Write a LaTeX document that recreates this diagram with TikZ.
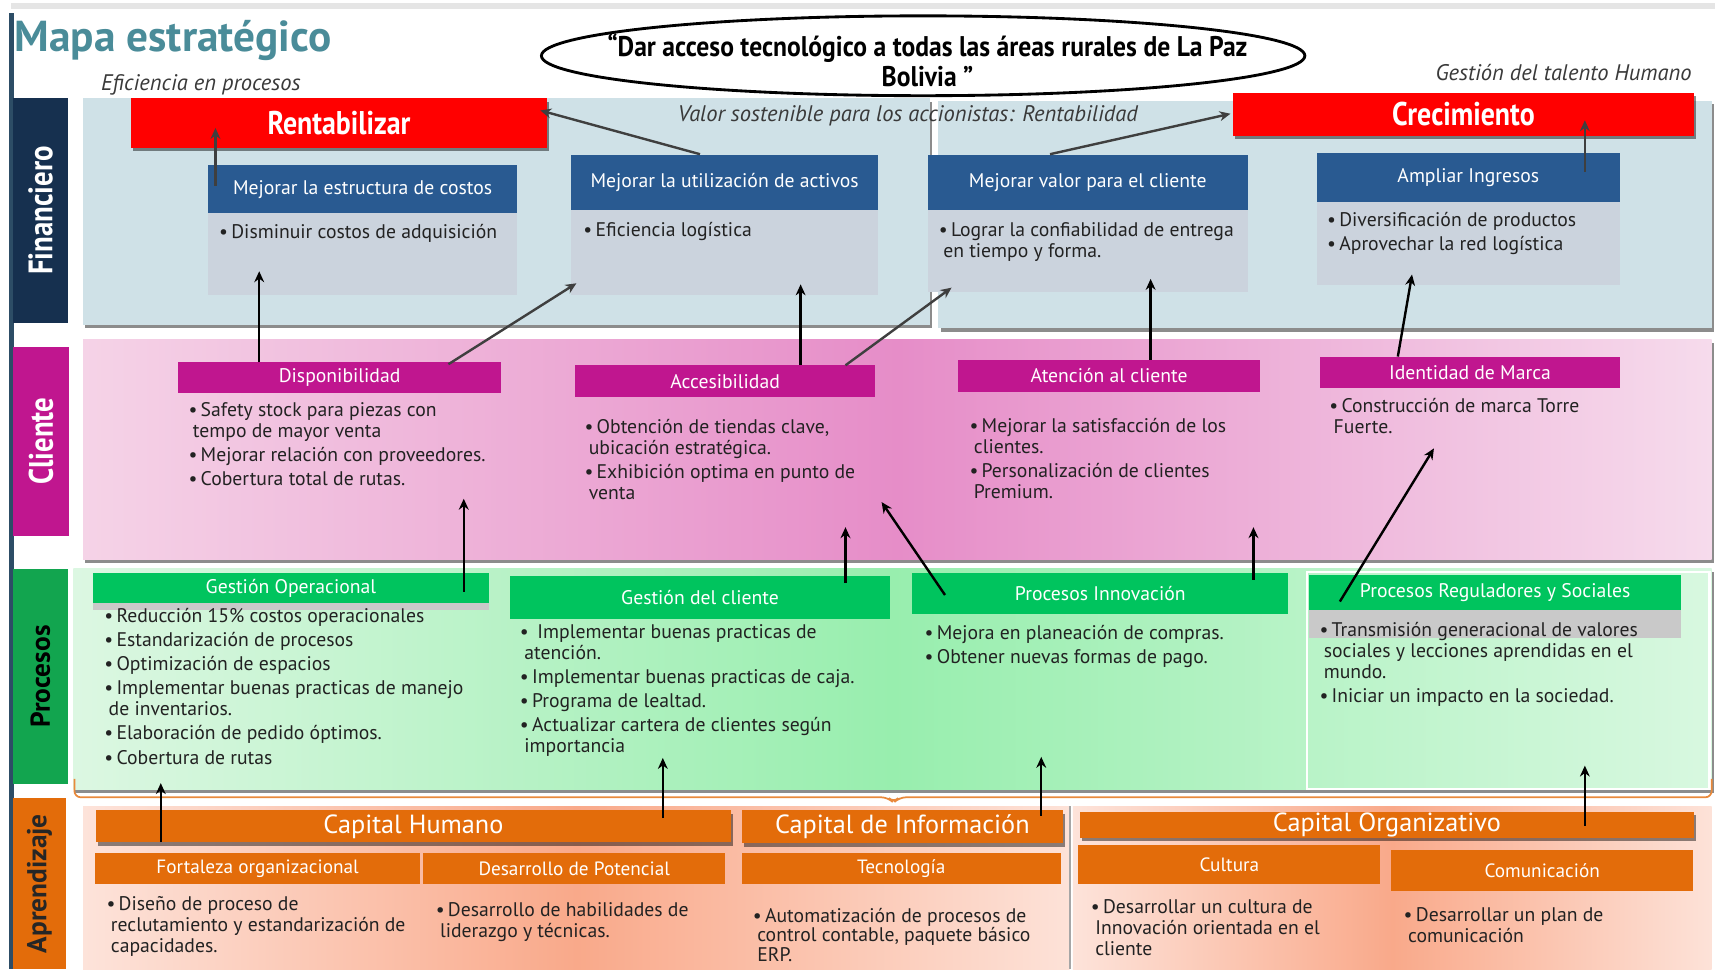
\documentclass[tikz,border=0pt]{standalone}
\usepackage{fontspec}
\setmainfont{PT Sans}
\newfontfamily\condf{PT Sans}[FakeStretch=0.85]
\newfontfamily\condg{PT Sans}[FakeStretch=0.9]
\usetikzlibrary{arrows.meta,shadows,shapes.geometric}
\definecolor{navy}{HTML}{16304F}
\definecolor{mag}{HTML}{C0168F}
\definecolor{grnh}{HTML}{00C45E}
\definecolor{grnl}{HTML}{12A54F}
\definecolor{org}{HTML}{E36C0A}
\definecolor{hblue}{HTML}{295A91}
\definecolor{bodyg}{HTML}{CBD3DD}
\definecolor{fpanel}{HTML}{CFE1E7}
\definecolor{teal}{HTML}{4A8C99}
\definecolor{lineblue}{HTML}{2D4D66}
\definecolor{red0}{HTML}{FF0000}
\definecolor{txt}{HTML}{222222}
\definecolor{txt2}{HTML}{3A3A3A}
\definecolor{darkg}{HTML}{3F3F3F}
\definecolor{pinkL}{HTML}{F5D3E7}
\definecolor{pinkM}{HTML}{E68DC8}
\definecolor{pinkR}{HTML}{F6DBEC}
\definecolor{grnL}{HTML}{DCF7E2}
\definecolor{grnM}{HTML}{98EEAE}
\definecolor{grnR}{HTML}{D8F8E0}
\definecolor{salL}{HTML}{FDE3DA}
\definecolor{salM}{HTML}{F9A98A}
\definecolor{salR}{HTML}{FDE2D8}
\definecolor{grayb}{HTML}{C9C9C9}
\newcommand\fbody{\fontsize{9}{9.6}\selectfont}
\newcommand\fhdr{\fontsize{9}{10}\selectfont}
\newcommand\fcap{\fontsize{12}{13}\selectfont}
\newcommand\fsub{\fontsize{8.8}{10}\selectfont}
\newcommand\fital{\itshape\fontsize{10.3}{11}\selectfont}
\newcommand\bul{\textbullet\hspace{1.5pt}}
% \rb{style}{name}{x1}{y1}{x2}{y2} {text};
\newcommand\rb[6]{\node[#1, minimum width={(#5-#3)*0.5pt}, minimum height={(#6-#4)*0.5pt}] (#2) at ({(#3+#5)/2},{(#4+#6)/2})}
\tikzset{
  box/.style={inner sep=0pt, outer sep=0pt, rectangle},
  shd/.style={drop shadow={shadow xshift=1pt, shadow yshift=-1.6pt, fill=black, opacity=0.45}},
  redbox/.style={box, shd, fill=red0, text=white, font=\condf\bfseries\fontsize{15}{17}\selectfont},
  bluehdr/.style={box, fill=hblue, text=white, font=\fhdr},
  bodybox/.style={box, fill=bodyg},
  maghdr/.style={box, fill=mag, text=white, font=\fhdr},
  grnhdr/.style={box, fill=grnh, text=white, font=\fhdr},
  orgbar/.style={box, shd, fill=org, text=white, font=\fcap},
  orgsub/.style={box, fill=org, text=white, font=\fsub},
  lst/.style={anchor=north west, align=left, inner sep=0pt, font=\fbody, text=txt},
  arr/.style={-{Stealth[length=5pt,width=4.5pt]}, line width=1.1pt, black},
  garr/.style={arr, darkg},
  sidelab/.style={box},
  ital/.style={font=\fital, text=txt2, inner sep=0pt},
}
\begin{document}
\begin{tikzpicture}[x=0.5pt,y=-0.5pt]
\useasboundingbox[fill=white] (0,0) rectangle (1568,886);
% top strip and left line
\fill[black!10] (10,3) rectangle (1568,8);
\draw[lineblue, line width=2.2pt] (10.5,12) -- (10.5,886);

% title and captions
\node[anchor=west, inner sep=0pt, text=teal, font=\bfseries\fontsize{19.8}{22}\selectfont] (title) at (13,37) {Mapa estratégico};
\node[ital, anchor=west] (efi) at (92,78) {Eficiencia en procesos};
\node[ital, anchor=east] (gth) at (1547,66) {Gestión del talento Humano};

% mission ellipse
\node[ellipse, draw, line width=1.3pt, minimum width=349pt, minimum height=36.5pt, inner sep=0pt] (mision) at (844,51) {};
\node[align=center, inner sep=0pt, font=\condg\bfseries\fontsize{13}{13.5}\selectfont] (mtxt) at (848,55) {“Dar acceso tecnológico a todas las áreas rurales de La Paz\\Bolivia ”};

% side labels
\rb{sidelab, fill=navy, text=white, font=\condf\bfseries\fontsize{15.5}{17}\selectfont}{labF}{12}{90}{62}{295} {\rotatebox{90}{Financiero}};
\rb{sidelab, fill=mag, text=white, font=\condf\bfseries\fontsize{15.5}{17}\selectfont}{labC}{12}{317}{63}{490} {\rotatebox{90}{Cliente}};
\rb{sidelab, fill=grnl, text=black, font=\bfseries\fontsize{12.5}{14}\selectfont}{labP}{12}{520}{62}{717} {\rotatebox{90}{Procesos}};
\rb{sidelab, fill=org, text=black!85, font=\bfseries\fontsize{12.5}{14}\selectfont}{labA}{12}{730}{60}{886} {\rotatebox{90}{Aprendizaje}};

% ---------------- Financiero
\rb{box, shd, fill=fpanel}{finL}{76}{90}{850}{297} {};
\rb{box, shd, fill=fpanel}{finR}{858}{92}{1565}{300} {};
\node[ital] (valor) at (830,106) {Valor sostenible para los accionistas: Rentabilidad};
\rb{redbox}{rent}{120}{90}{500}{135} {Rentabilizar};
\rb{redbox}{crec}{1127}{85}{1549}{124} {Crecimiento};

\rb{bodybox}{costb}{190}{195}{473}{270} {};
\rb{bluehdr}{costh}{190}{151}{473}{195} {Mejorar la estructura de costos};
\node[lst] (costl) at (200,205) {\bul Disminuir costos de adquisición};

\rb{bodybox}{activb}{522}{192}{803}{270} {};
\rb{bluehdr}{activh}{522}{142}{803}{192} {Mejorar la utilización de activos};
\node[lst] (activl) at (533,203) {\bul Eficiencia logística};

\rb{bodybox}{valorb}{848}{192}{1141}{267} {};
\rb{bluehdr}{valorh}{848}{142}{1141}{192} {Mejorar valor para el cliente};
\node[lst] (valorl) at (858,203) {\bul Lograr la confiabilidad de entrega\\\hspace*{2pt}en tiempo y forma.};

\rb{bodybox}{ingb}{1204}{185}{1481}{261} {};
\rb{bluehdr}{ingh}{1204}{140}{1481}{185} {Ampliar Ingresos};
\node[lst] (ingl) at (1213,194) {\bul Diversificación de productos\\[1.2pt]\bul Aprovechar la red logística};

% ---------------- Cliente
\rb{box, shd, left color=pinkL, right color=pinkR, middle color=pinkM}{clip}{76}{310}{1565}{512} {};
\rb{maghdr}{dispo}{163}{331}{458}{359} {Disponibilidad};
\node[lst] (dispol) at (172,368) {\bul Safety stock para piezas con\\\hspace*{2pt}tempo de mayor venta\\[1.3pt]\bul Mejorar relación con proveedores.\\[1.3pt]\bul Cobertura total de rutas.};
\rb{maghdr}{acces}{526}{334}{800}{363} {Accesibilidad};
\node[lst] (accesl) at (534,383) {\bul Obtención de tiendas clave,\\\hspace*{2pt}ubicación estratégica.\\[1.3pt]\bul Exhibición optima en punto de\\\hspace*{2pt}venta};
\rb{maghdr}{atenc}{876}{329}{1152}{358} {Atención al cliente};
\node[lst] (atencl) at (886,382) {\bul Mejorar la satisfacción de los\\\hspace*{2pt}clientes.\\[1.3pt]\bul Personalización de clientes\\\hspace*{2pt}Premium.};
\rb{maghdr}{ident}{1207}{326}{1481}{355} {Identidad de Marca};
\node[lst] (identl) at (1215,364) {\bul Construcción de marca Torre\\\hspace*{2pt}Fuerte.};

% ---------------- Procesos
\rb{box, shd, left color=grnL, right color=grnR, middle color=grnM}{prop}{67}{520}{1565}{722} {};
\rb{box, draw=white, line width=1pt}{regframe}{1195}{523}{1563}{721} {};
\rb{box, fill=grayb}{gopbar}{85}{551}{447}{558} {};
\rb{grnhdr}{gop}{85}{524}{447}{551} {Gestión Operacional};
\node[lst] (gopl) at (95,556) {\bul Reducción 15\% costos operacionales\\[1.4pt]\bul Estandarización de procesos\\[1.4pt]\bul Optimización de espacios\\[1.4pt]\bul Implementar buenas practicas de manejo\\\hspace*{2pt}de inventarios.\\[1.4pt]\bul Elaboración de pedido óptimos.\\[1.4pt]\bul Cobertura de rutas};
\rb{grnhdr}{gcli}{466}{527}{814}{566} {Gestión del cliente};
\node[lst] (gclil) at (475,571) {\bul\ Implementar buenas practicas de\\\hspace*{2pt}atención.\\[1.3pt]\bul Implementar buenas practicas de caja.\\[1.3pt]\bul Programa de lealtad.\\[1.3pt]\bul Actualizar cartera de clientes según\\\hspace*{2pt}importancia};
\rb{grnhdr}{pinn}{834}{524}{1178}{561} {Procesos Innovación};
\node[lst] (pinnl) at (845,571) {\bul Mejora en planeación de compras.\\[1.6pt]\bul Obtener nuevas formas de pago.};
\rb{box, fill=grayb}{pregbar}{1197}{558}{1537}{583} {};
\rb{grnhdr}{preg}{1197}{526}{1537}{558} {Procesos Reguladores y Sociales};
\node[lst] (pregl) at (1206,569) {\bul Transmisión generacional de valores\\\hspace*{2pt}sociales y lecciones aprendidas en el\\\hspace*{2pt}mundo.\\[1.3pt]\bul Iniciar un impacto en la sociedad.};
% orange brace
\draw[org!80, line width=0.8pt, rounded corners=3pt] (68,712) |- (812,729) -- (817,734) -- (822,729) -| (1565,712);

% ---------------- Aprendizaje
\rb{box, left color=salL, right color=salR, middle color=salM}{apL}{76}{737}{978}{886} {};
\rb{box, left color=salL, right color=salR, middle color=salM}{apR}{981}{737}{1565}{886} {};
\draw[black!35, line width=1pt] (apL.north east) -- (apL.south east);
\rb{orgbar}{chum}{88}{741}{668}{770} {Capital Humano};
\rb{orgbar}{cinf}{678}{741}{972}{771} {Capital de Información};
\rb{orgbar}{corg}{987}{742}{1549}{766} {Capital Organizativo};
\rb{orgsub}{fort}{87}{780}{384}{808} {Fortaleza organizacional};
\rb{orgsub}{desa}{387}{780}{663}{808} {Desarrollo de Potencial};
\rb{orgsub}{tecn}{678}{780}{970}{808} {Tecnología};
\rb{orgsub}{cult}{986}{773}{1262}{808} {Cultura};
\rb{orgsub}{comu}{1272}{777}{1548}{815} {Comunicación};
\node[lst] (fortl) at (97,819) {\bul Diseño de proceso de\\\hspace*{2pt}reclutamiento y estandarización de\\\hspace*{2pt}capacidades.};
\node[lst] (desal) at (398,825) {\bul Desarrollo de habilidades de\\\hspace*{2pt}liderazgo y técnicas.};
\node[lst, font=\fontsize{9}{8.9}\selectfont] (tecnl) at (688,830) {\bul Automatización de procesos de\\\hspace*{2pt}control contable, paquete básico\\\hspace*{2pt}ERP.};
\node[lst] (cultl) at (997,822) {\bul Desarrollar un cultura de\\\hspace*{2pt}Innovación orientada en el\\\hspace*{2pt}cliente};
\node[lst] (comul) at (1283,829) {\bul Desarrollar un plan de\\\hspace*{2pt}comunicación};

% ---------------- arrow end points
\coordinate (f1s) at (197,170); \coordinate (f1e) at (197,117);
\coordinate (f2s) at (640,141); \coordinate (f2e) at (494,101);
\coordinate (f3s) at (960,141); \coordinate (f3e) at (1125,104);
\coordinate (f4s) at (1449,157); \coordinate (f4e) at (1449,110);
\coordinate (c1s) at (237,331); \coordinate (c1e) at (237,248);
\coordinate (c2s) at (410,333); \coordinate (c2e) at (527,259);
\coordinate (c3s) at (732,334); \coordinate (c3e) at (732,260);
\coordinate (c4s) at (773,334); \coordinate (c4e) at (870,263);
\coordinate (c5s) at (1052,329); \coordinate (c5e) at (1052,255);
\coordinate (c6s) at (1278,326); \coordinate (c6e) at (1291,251);
\coordinate (p1s) at (424,541); \coordinate (p1e) at (424,456);
\coordinate (p2s) at (773,533); \coordinate (p2e) at (773,482);
\coordinate (p3s) at (864,544); \coordinate (p3e) at (806,459);
\coordinate (p4s) at (1146,530); \coordinate (p4e) at (1146,482);
\coordinate (p5s) at (1225,550); \coordinate (p5e) at (1311,410);
\coordinate (a1s) at (147,770); \coordinate (a1e) at (147,716);
\coordinate (a2s) at (606,748); \coordinate (a2e) at (606,693);
\coordinate (a3s) at (952,746); \coordinate (a3e) at (952,692);
\coordinate (a4s) at (1449,755); \coordinate (a4e) at (1449,700);

\draw[garr] (f1s) -- (f1e);
\draw[garr] (f2s) -- (f2e);
\draw[garr] (f3s) -- (f3e);
\draw[garr] (f4s) -- (f4e);
\draw[arr] (c1s) -- (c1e);
\draw[garr] (c2s) -- (c2e);
\draw[arr] (c3s) -- (c3e);
\draw[garr] (c4s) -- (c4e);
\draw[arr] (c5s) -- (c5e);
\draw[arr] (c6s) -- (c6e);
\draw[arr] (p1s) -- (p1e);
\draw[arr] (p2s) -- (p2e);
\draw[arr] (p3s) -- (p3e);
\draw[arr] (p4s) -- (p4e);
\draw[arr] (p5s) -- (p5e);
\draw[arr] (a1s) -- (a1e);
\draw[arr] (a2s) -- (a2e);
\draw[arr] (a3s) -- (a3e);
\draw[arr] (a4s) -- (a4e);
\end{tikzpicture}
\end{document}
